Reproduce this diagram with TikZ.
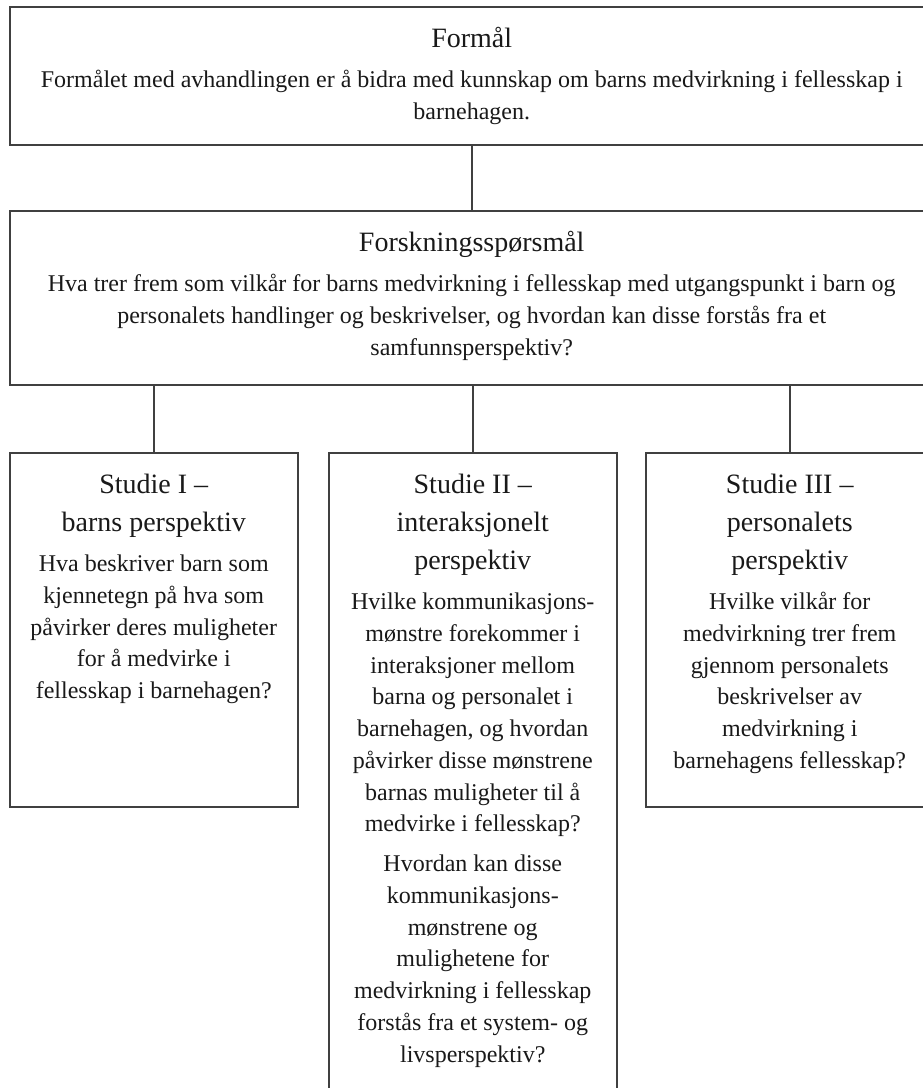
\documentclass[tikz,border=0pt]{standalone}
\usepackage{fontspec}
\setmainfont{Liberation Serif}

\newcommand{\boks}[3]{\parbox[c][#2][t]{#1}{\centering\setlength{\parskip}{4.2pt}#3}}
\newcommand{\tittel}[1]{{\fontsize{14pt}{19pt}\selectfont\rule{0pt}{20.5pt}#1\par}}
\newcommand{\tekst}{\fontsize{12pt}{15.85pt}\selectfont}

\tikzset{
  boxstyle/.style={draw=black!75, line width=0.75pt, inner sep=0pt, anchor=north west, text=black!90},
  linje/.style={draw=black!75, line width=0.75pt}
}

\begin{document}
\begin{tikzpicture}[x=0.5pt,y=-0.5pt]

   \useasboundingbox (0,0) rectangle (922,1088);

   \node (formal) at (9,6) [boxstyle] {\boks{462pt}{69pt}{%
      \tittel{Formål}
      \tekst Formålet med avhandlingen er å bidra med kunnskap om barns medvirkning i fellesskap i\\ barnehagen.}};
   \node (sporsmal) at (9,210) [boxstyle] {\boks{462pt}{87pt}{%
      \tittel{Forskningsspørsmål}
      \tekst Hva trer frem som vilkår for barns medvirkning i fellesskap med utgangspunkt i barn og\\
      personalets handlinger og beskrivelser, og hvordan kan disse forstås fra et\\ samfunnsperspektiv?}};

   \node (studieI) at (9,452) [boxstyle] {\boks{144pt}{177pt}{%
      \tittel{Studie I –\\ barns perspektiv}
      \tekst Hva beskriver barn som\\ kjennetegn på hva som\\ påvirker deres muligheter\\
      for å medvirke i\\ fellesskap i barnehagen?}};
   \node (studieII) at (328,452) [boxstyle] {\boks{144pt}{320pt}{%
      \tittel{Studie II –\\ interaksjonelt\\ perspektiv}
      \tekst Hvilke kommunikasjons-\\ mønstre forekommer i\\ interaksjoner mellom\\
      barna og personalet i\\ barnehagen, og hvordan\\ påvirker disse mønstrene\\
      barnas muligheter til å\\ medvirke i fellesskap?\par
      Hvordan kan disse\\ kommunikasjons-\\ mønstrene og\\ mulighetene for\\
      medvirkning i fellesskap\\ forstås fra et system- og\\ livsperspektiv?}};
   \node (studieIII) at (645,452) [boxstyle] {\boks{144pt}{177pt}{%
      \tittel{Studie III –\\ personalets\\ perspektiv}
      \tekst Hvilke vilkår for\\ medvirkning trer frem\\ gjennom personalets\\
      beskrivelser av\\ medvirkning i\\ barnehagens fellesskap?}};

   \draw [linje] (formal.south) -- (sporsmal.north);

   \draw [linje] (studieI.north |- sporsmal.south) -- (studieI.north);
   \draw [linje] (studieII.north |- sporsmal.south) -- (studieII.north);
   \draw [linje] (studieIII.north |- sporsmal.south) -- (studieIII.north);

\end{tikzpicture}
\end{document}
